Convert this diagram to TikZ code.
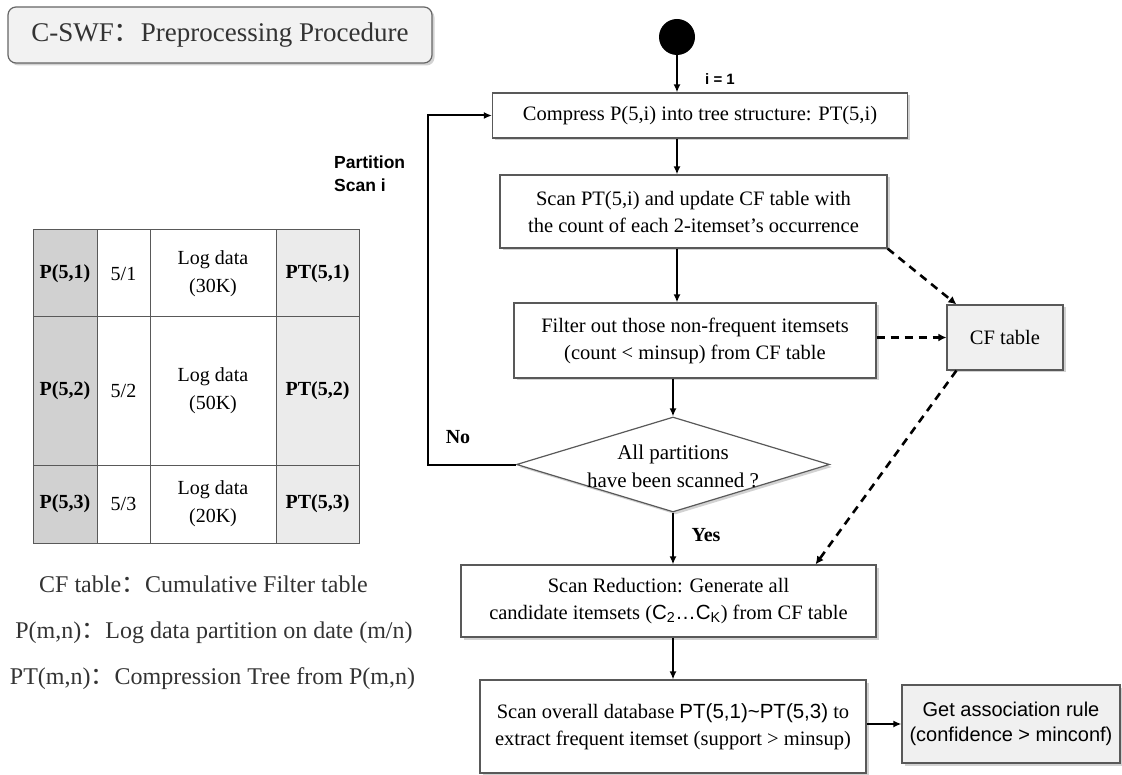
\documentclass[tikz,border=0pt]{standalone}
\usepackage{fontspec}
\setmainfont{Liberation Serif}
\setsansfont{Liberation Sans}
\newfontfamily\cjk{Noto Sans CJK SC}
\usetikzlibrary{arrows.meta,shapes.geometric,shadows,calc}
\begin{document}
\begin{tikzpicture}[x=1pt,y=-1pt,
  shad/.style={drop shadow={shadow xshift=2.5pt,shadow yshift=-2.5pt,fill=black!35}},
  flowbox/.style={draw=black!65,line width=1.2pt,fill=white,inner sep=0pt,align=center,
    font=\fontsize{20.5}{27}\selectfont,shad},
  graybox/.style={flowbox,fill=black!6},
  cell/.style={draw=black!65,line width=1pt,inner sep=0pt,align=center,
    font=\fontsize{20}{28}\selectfont},
  pcell/.style={cell,fill=black!18,font=\fontsize{20}{28}\selectfont\bfseries},
  ptcell/.style={cell,fill=black!8,font=\fontsize{20}{28}\selectfont\bfseries},
  legend/.style={inner sep=0pt,font=\fontsize{24}{28}\selectfont,text=black!80},
  lab/.style={inner sep=0pt,font=\fontsize{20}{24}\selectfont\bfseries},
  slab/.style={inner sep=0pt,align=left,font=\fontsize{17.5}{23}\selectfont\sffamily\bfseries},
  arr/.style={-{Latex[length=8pt,width=7pt]},line width=2pt},
  dar/.style={-{Latex[length=8pt,width=8pt]},line width=2.6pt,dash pattern=on 8pt off 6pt}]
\useasboundingbox (0,0) rectangle (1122,775);

% title
\node[draw=black!60,line width=1.2pt,rounded corners=8pt,fill=black!5,shad,
  minimum width=424,minimum height=56,inner sep=0pt,text=black!80,
  font=\fontsize{27}{30}\selectfont] (title) at (220,35)
  {C-SWF{\cjk ：}Preprocessing Procedure};

% table
\node[pcell,minimum width=64,minimum height=87] (p1) at (65,273.5) {P(5,1)};
\node[cell,minimum width=53,minimum height=87] (d1) at (123.5,273.5) {5/1};
\node[cell,minimum width=126,minimum height=87] (l1) at (213,273.5) {Log data\\(30K)};
\node[ptcell,minimum width=83,minimum height=87] (t1) at (317.5,273.5) {PT(5,1)};
\node[pcell,minimum width=64,minimum height=148] (p2) at (65,391) {P(5,2)};
\node[cell,minimum width=53,minimum height=148] (d2) at (123.5,391) {5/2};
\node[cell,minimum width=126,minimum height=148] (l2) at (213,391) {Log data\\(50K)};
\node[ptcell,minimum width=83,minimum height=148] (t2) at (317.5,391) {PT(5,2)};
\node[pcell,minimum width=64,minimum height=78] (p3) at (65,504) {P(5,3)};
\node[cell,minimum width=53,minimum height=78] (d3) at (123.5,504) {5/3};
\node[cell,minimum width=126,minimum height=78] (l3) at (213,504) {Log data\\(20K)};
\node[ptcell,minimum width=83,minimum height=78] (t3) at (317.5,504) {PT(5,3)};

% legend
\node[legend] (lg1) at (203.5,584) {CF table{\cjk ：}Cumulative Filter table};
\node[legend] (lg2) at (214,633) {P(m,n){\cjk ：}Log data partition on date (m/n)};
\node[legend] (lg3) at (212.5,679) {PT(m,n){\cjk ：}Compression Tree from P(m,n)};

% flow
\node[circle,fill=black,minimum size=36pt,inner sep=0pt] (start) at (677,37) {};
\node[flowbox,minimum width=415,minimum height=45] (b1) at (700,115.5)
  {Compress P(5,i) into tree structure: PT(5,i)};
\node[flowbox,minimum width=387,minimum height=73] (b2) at (693.5,211.5)
  {Scan PT(5,i) and update CF table with\\the count of each 2-itemset's occurrence};
\node[flowbox,minimum width=362,minimum height=75] (b3) at (695,340.5)
  {Filter out those non-frequent itemsets\\(count < minsup) from CF table};
\node[graybox,minimum width=116,minimum height=65] (cf) at (1005,337.5) {CF table};
\node[diamond,draw=black!65,line width=1.2pt,fill=white,shad,inner sep=0pt,
  minimum width=313,minimum height=95] (dia) at (673,464.5) {};
\node[inner sep=0pt,align=center,font=\fontsize{21}{28}\selectfont] (diat) at (673,466)
  {All partitions\\have been scanned ?};
\node[flowbox,minimum width=415,minimum height=72] (b4) at (668.5,601)
  {Scan Reduction: Generate all\\candidate itemsets ({\sffamily C\textsubscript{2}…C\textsubscript{K}}) from CF table};
\node[flowbox,minimum width=386,minimum height=93] (b5) at (673,726.5)
  {Scan overall database {\sffamily PT(5,1)\textasciitilde PT(5,3)} to\\extract frequent itemset (support > minsup)};
\node[graybox,minimum width=218,minimum height=78,font=\fontsize{20}{25}\selectfont\sffamily] (b6) at (1011,724)
  {Get association rule\\(confidence > minconf)};

% labels
\node[inner sep=0pt,font=\fontsize{15}{18}\selectfont\sffamily\bfseries] (ione) at (720,79) {i = 1};
\node[slab,anchor=west] (pscan) at (334,173.5) {Partition\\Scan i};
\node[lab] (no) at (458,437) {No};
\node[lab] (yes) at (706,535) {Yes};

% connectors
\coordinate (lx) at (428,0);
\draw[arr] (start) -- (start |- b1.north);
\draw[arr] (b1.south -| start) -- (b2.north -| start);
\draw[arr] (b2.south -| start) -- (b3.north -| start);
\draw[arr] (b3.south -| dia.north) -- (dia.north);
\draw[arr] (dia.south) -- (b4.north -| dia.south);
\draw[arr] (b4.south -| dia.south) -- (b5.north -| dia.south);
\draw[arr] (b5.east |- b6.west) -- (b6.west);
\draw[arr] (dia.west) -- (dia.west -| lx) |- (b1.west);
\draw[dar] (b2.south east) -- ($(cf.north west)+(10,0)$);
\draw[dar] (b3.east |- cf.west) -- (cf.west);
\draw[dar] ($(cf.south west)+(10,0)$) -- ($(b4.north east)+(-61,0)$);
\end{tikzpicture}
\end{document}
